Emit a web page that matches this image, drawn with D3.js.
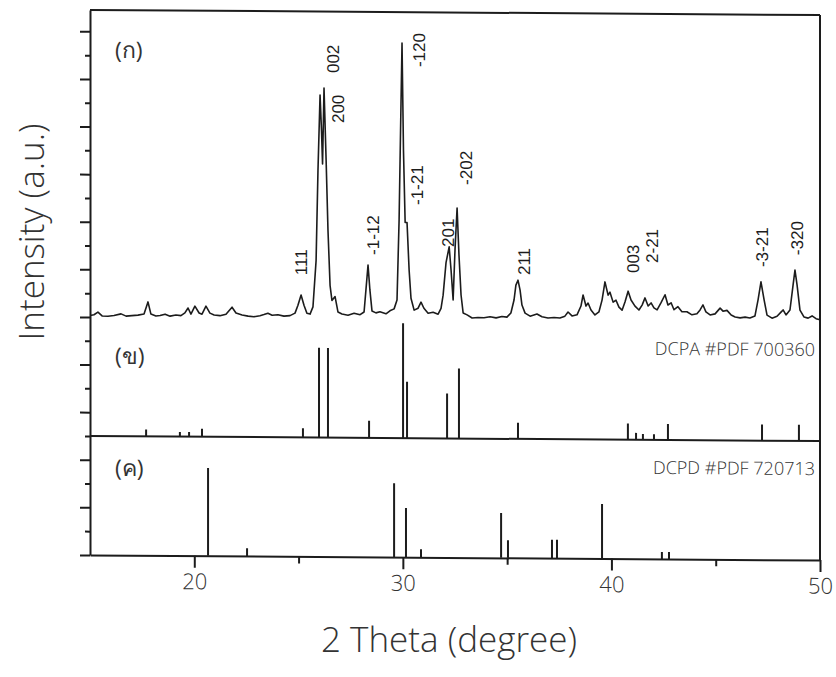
<!DOCTYPE html>
<html>
<head>
<meta charset="utf-8">
<script src="https://cdnjs.cloudflare.com/ajax/libs/d3/7.8.5/d3.min.js"></script>
<style>
body { margin: 0; background: #fff; }
</style>
</head>
<body>
<svg class="xrdSvg" width="836" height="677"></svg>
<script>
var w = 836
var h = 677
var plotLeft = 90
var plotRight = 820
var plotTop = 12.5
var plotBottom = 557.5
var ink = "#1c1c1c"
var textInk = "#333"

// measured sample pattern (ก): 2 theta and relative intensity (%)
var sampleTheta = [15.00,15.19,15.38,15.58,15.86,16.15,16.49,16.73,17.01,17.30,
	17.59,17.78,17.92,18.16,18.36,18.60,18.84,19.12,19.36,19.55,
	19.70,19.84,20.03,20.23,20.37,20.56,20.75,20.95,21.23,21.52,
	21.81,22.00,22.29,22.58,22.86,23.15,23.34,23.53,23.73,24.01,
	24.30,24.59,24.83,24.97,25.12,25.26,25.40,25.55,25.69,25.84,
	25.93,26.03,26.10,26.15,26.22,26.32,26.41,26.51,26.60,26.75,
	26.89,27.08,27.37,27.66,27.95,28.14,28.23,28.33,28.42,28.52,
	28.71,28.90,29.19,29.38,29.58,29.72,29.82,29.89,29.96,30.03,
	30.11,30.20,30.30,30.39,30.54,30.73,30.87,31.01,31.21,31.45,
	31.69,31.83,31.93,32.07,32.22,32.31,32.41,32.50,32.60,32.69,
	32.79,32.89,33.08,33.32,33.60,33.89,34.18,34.47,34.75,34.99,
	35.18,35.33,35.42,35.52,35.62,35.71,35.86,36.10,36.43,36.67,
	36.96,37.25,37.53,37.77,37.92,38.11,38.35,38.54,38.64,38.78,
	38.88,39.02,39.21,39.40,39.55,39.69,39.84,39.93,40.08,40.22,
	40.36,40.51,40.65,40.80,40.94,41.13,41.32,41.47,41.61,41.76,
	41.90,42.04,42.19,42.38,42.57,42.71,42.86,43.00,43.19,43.38,
	43.62,43.86,44.10,44.25,44.39,44.53,44.73,44.97,45.21,45.35,
	45.54,45.74,45.93,46.17,46.41,46.64,46.88,47.03,47.17,47.32,
	47.46,47.70,47.94,48.13,48.23,48.37,48.56,48.71,48.80,48.90,
	49.04,49.23,49.43,49.62,49.81,50.00]
var sampleIntensity = [0.5,0.8,1.8,0.4,0.3,0.6,1.2,0.4,0.6,0.8,
	1.2,5.6,1.2,0.5,0.7,1.2,0.5,0.9,0.7,1.7,
	3.5,1.3,4.2,1.7,1.3,4.2,1.7,1.0,0.8,1.3,
	3.9,1.8,1.1,0.7,0.5,0.9,1.3,1.8,1.1,1.3,
	0.8,1.0,1.9,4.8,8.5,4.8,1.9,1.6,4.2,21,
	53.5,81,68,56,83.5,57.6,32,12,6.6,8,
	2.4,1.7,1.3,2.0,1.5,2.5,10.5,19.5,10.5,2.9,
	2.2,2.6,1.9,3.0,3.7,6.9,36,68.5,100,61,
	35,35,17.8,7.6,3.3,4.0,6.2,4.0,2.2,2.6,
	1.9,4.0,8.8,20.6,26.3,18,7.1,25.2,40.4,23.5,
	8.9,2.4,1.7,0.6,0.8,0.7,1.1,0.7,1.2,1.0,
	2.5,7.2,12.6,14.4,10.8,5.4,2.5,1.4,2.2,1.2,
	0.8,1.0,0.8,1.5,3.0,1.6,2.0,5.2,9.2,5.2,
	6.3,3.8,2.0,3.1,7.4,14.0,9.2,10.3,6.7,7.4,
	4.9,3.8,6.8,10.7,7.5,5.3,3.9,5.7,8.3,5.4,
	6.5,4.7,4.0,6.6,9.5,5.8,6.6,4.1,5.2,3.4,
	3.4,2.3,2.7,4.1,5.9,3.4,2.3,2.7,4.8,3.7,
	4.0,2.3,1.6,1.3,1.6,1.3,2.0,7.9,14.4,7.9,
	2.4,1.3,2.0,3.5,4.3,2.5,4.3,13.4,18.8,13.4,
	4.3,1.8,1.4,2.2,1.2,0.8]

// reference sticks (ข) DCPA and (ค) DCPD
var dcpaTheta = [17.69,19.31,19.75,20.37,25.21,25.98,26.41,28.38,30.01,30.20,32.12,32.69,35.52,40.79,41.18,41.51,42.04,42.71,47.22,48.99]
var dcpaIntensity = [6,4,4,7,8,78,78,15,100,49,39,61,14,14,6,5,5,14,14,14]
var dcpdTheta = [20.66,22.53,29.58,30.15,30.87,34.71,35.04,37.15,37.39,39.55,42.42,42.76]
var dcpdIntensity = [100,9,84,56,9,51,20,21,21,62,8,8]

// hkl labels: text, 2 theta, intensity level where the label starts
var hklText = ["111","002","200","-1-12","-120","-1-21","201","-202","211","003","2-21","-3-21","-320"]
var hklTheta = [25.12,26.65,26.89,28.57,30.78,30.68,32.17,33.03,35.81,41.03,41.95,47.22,48.90]
var hklLevel = [15.7,89,70.9,23.2,91.4,41.4,26.3,48.8,16.3,17.3,21,19.8,24.2]

var xTicks = [20, 30, 40, 50]
var xMinorTicks = [25, 35, 45]
var panelNames = ["(ก)", "(ข)", "(ค)"]
var refNames = ["DCPA #PDF 700360", "DCPD #PDF 720713"]

var svg = d3.select(".xrdSvg")

svg.append("rect")
	.attr("width", w)
	.attr("height", h)
	.attr("fill", "#fff")

// the scanned figure sits a little slanted
var slant = 0.4
var plot = svg.append("g")
	.attr("transform", "translate(0," + (-455 * Math.tan(slant * Math.PI / 180)) + ") skewY(" + slant + ")")

var x = d3.scaleLinear().domain([15, 50]).range([plotLeft, plotRight])
var yAxisScale = d3.scaleLinear().domain([0, 22.9]).range([plotBottom, plotTop])
var yTop = d3.scaleLinear().domain([0, 100]).range([yAxisScale(10), yAxisScale(10) - 276])
var yMid = d3.scaleLinear().domain([0, 100]).range([yAxisScale(5), yAxisScale(5) - 115])
var yBot = d3.scaleLinear().domain([0, 100]).range([yAxisScale(0), yAxisScale(0) - 87.8])

// frame
plot.append("line")
	.attr("x1", plotLeft).attr("x2", plotRight)
	.attr("y1", plotTop).attr("y2", plotTop)
	.attr("stroke", ink).attr("stroke-width", 2)
plot.append("line")
	.attr("x1", plotRight).attr("x2", plotRight)
	.attr("y1", plotTop).attr("y2", plotBottom)
	.attr("stroke", ink).attr("stroke-width", 2)
plot.append("line")
	.attr("x1", plotLeft).attr("x2", plotRight)
	.attr("y1", yAxisScale(5)).attr("y2", yAxisScale(5))
	.attr("stroke", ink).attr("stroke-width", 2)

// left axis, long and short ticks
var yMajor = d3.axisLeft(yAxisScale).tickValues(d3.range(0, 23, 2)).tickSize(10).tickSizeOuter(0).tickFormat("")
var yMinor = d3.axisLeft(yAxisScale).tickValues(d3.range(1, 23, 2)).tickSize(5).tickSizeOuter(0).tickFormat("")

plot.append("g")
	.attr("transform", "translate(" + plotLeft + ",0)")
	.call(yMajor)
	.call(function(g){ g.selectAll("path, line").attr("stroke", ink).attr("stroke-width", 2) })
plot.append("g")
	.attr("transform", "translate(" + plotLeft + ",0)")
	.call(yMinor)
	.call(function(g){
		g.select(".domain").remove()
		g.selectAll("line").attr("stroke", ink).attr("stroke-width", 2)
	})

// bottom axis
var xAxis = d3.axisBottom(x).tickValues(xTicks).tickSize(12).tickSizeOuter(0).tickPadding(6).tickFormat(d3.format("d"))
var xMinor = d3.axisBottom(x).tickValues(xMinorTicks).tickSize(7).tickSizeOuter(0).tickFormat("")

plot.append("g")
	.attr("transform", "translate(0," + plotBottom + ")")
	.call(xAxis)
	.call(function(g){
		g.selectAll("path, line").attr("stroke", ink).attr("stroke-width", 2)
		g.selectAll("text")
			.attr("fill", textInk)
			.attr("font-family", "Open Sans")
			.attr("font-weight", 300)
			.attr("font-size", "22px")
	})
plot.append("g")
	.attr("transform", "translate(0," + plotBottom + ")")
	.call(xMinor)
	.call(function(g){
		g.select(".domain").remove()
		g.selectAll("line").attr("stroke", ink).attr("stroke-width", 2)
	})

// sample trace
var samplePoints = sampleTheta.map(function(t, i){ return {t: t, v: sampleIntensity[i]} })
var traceLine = d3.line()
	.x(function(d){ return x(d.t) })
	.y(function(d){ return yTop(d.v) })

plot.append("path")
	.datum(samplePoints)
	.attr("d", traceLine)
	.attr("fill", "none")
	.attr("stroke", ink)
	.attr("stroke-width", 1.6)
	.attr("stroke-linejoin", "round")

// stick patterns
var drawSticks = function(thetas, values, yScale){
	plot.append("g")
		.selectAll("line")
		.data(thetas.map(function(t, i){ return {t: t, v: values[i]} }))
		.enter()
		.append("line")
		.attr("x1", function(d){ return x(d.t) })
		.attr("x2", function(d){ return x(d.t) })
		.attr("y1", yScale(0))
		.attr("y2", function(d){ return yScale(d.v) })
		.attr("stroke", ink)
		.attr("stroke-width", 2)
}
drawSticks(dcpaTheta, dcpaIntensity, yMid)
drawSticks(dcpdTheta, dcpdIntensity, yBot)

// hkl labels on the sample peaks
plot.append("g")
	.selectAll("text")
	.data(hklText.map(function(s, i){ return {s: s, t: hklTheta[i], v: hklLevel[i]} }))
	.enter()
	.append("text")
	.text(function(d){ return d.s })
	.attr("transform", function(d){ return "translate(" + x(d.t) + "," + yTop(d.v) + ") rotate(-90)" })
	.attr("dy", "0.36em")
	.attr("font-family", "Liberation Sans")
	.attr("font-size", "17px")
	.attr("fill", ink)

// panel names
var panelTops = [plotTop, yAxisScale(10), yAxisScale(5)]
var panelOffsets = [48, 47, 40]
plot.append("g")
	.selectAll("text")
	.data(panelNames)
	.enter()
	.append("text")
	.text(function(d){ return d })
	.attr("x", 115)
	.attr("y", function(d, i){ return panelTops[i] + panelOffsets[i] })
	.attr("font-family", "Open Sans, DejaVu Sans, sans-serif")
	.attr("font-size", "23px")
	.attr("fill", textInk)

plot.append("g")
	.selectAll("text")
	.data(refNames)
	.enter()
	.append("text")
	.text(function(d){ return d })
	.attr("x", 815)
	.attr("y", function(d, i){ return [yAxisScale(10), yAxisScale(5)][i] + 34 })
	.attr("text-anchor", "end")
	.attr("font-family", "Open Sans")
	.attr("font-weight", 300)
	.attr("font-size", "18px")
	.attr("fill", textInk)

// axis titles
svg.append("text")
	.text("2 Theta (degree)")
	.attr("x", 449)
	.attr("y", 652)
	.attr("text-anchor", "middle")
	.attr("font-family", "Open Sans")
	.attr("font-weight", 300)
	.attr("font-size", "35px")
	.attr("fill", textInk)

svg.append("text")
	.text("Intensity (a.u.)")
	.attr("transform", "translate(44,232) rotate(-90)")
	.attr("text-anchor", "middle")
	.attr("font-family", "Open Sans")
	.attr("font-weight", 300)
	.attr("font-size", "35px")
	.attr("fill", textInk)
</script>
</body>
</html>
